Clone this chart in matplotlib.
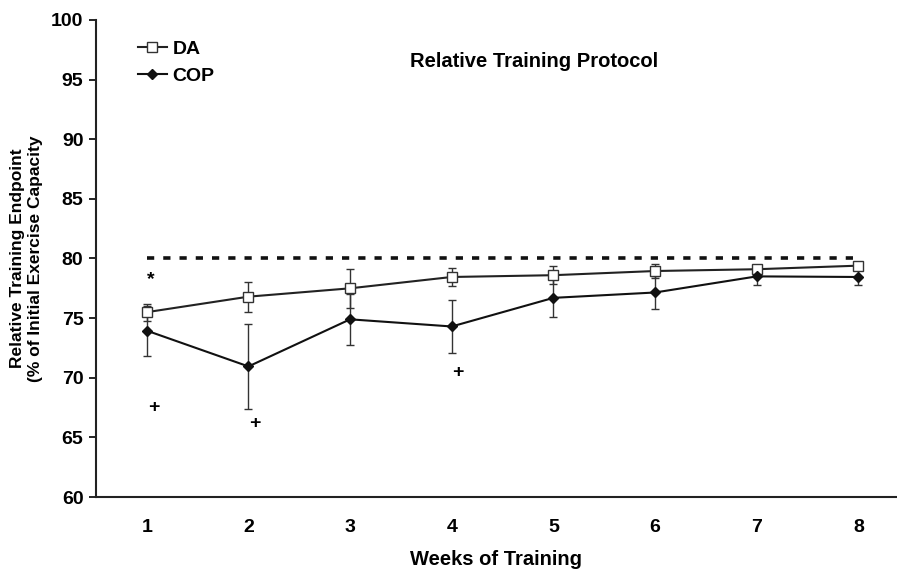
import numpy as np
import matplotlib.pyplot as plt
from matplotlib.lines import Line2D

plt.rcParams['font.family'] = ['Liberation Sans', 'DejaVu Sans']
plt.rcParams['font.weight'] = 'bold'

weeks = [1, 2, 3, 4, 5, 6, 7, 8]
da_mean = [75.5, 76.8, 77.5, 78.45, 78.6, 78.95, 79.1, 79.4]
da_err = [0.7, 1.25, 1.65, 0.75, 0.75, 0.6, 0.35, 0.3]
cop_mean = [73.95, 70.95, 74.9, 74.3, 76.7, 77.15, 78.5, 78.45]
cop_err = [2.1, 3.55, 2.15, 2.25, 1.6, 1.4, 0.7, 0.7]
target = 80

marks = ['*', '+', '+', '+']
mark_x = [1.04, 1.07, 2.06, 4.06]
mark_y = [78.2, 67.5, 66.2, 70.4]

fig = plt.figure(figsize=(8.97, 5.70), dpi=100)
ax = fig.add_axes([0.107, 0.128, 0.893, 0.837])

ax.plot([weeks[0], weeks[-1]], [target, target], color='#111111', lw=2.6,
        dashes=(2.0, 2.5), zorder=1)

ax.errorbar(weeks, da_mean, yerr=da_err, color='#222222', lw=1.5, marker='s',
            ms=6.5, mfc='white', mec='#333333', mew=1.0, ecolor='#333333',
            elinewidth=1.0, capsize=3, capthick=1.0, zorder=3)
ax.errorbar(weeks, cop_mean, yerr=cop_err, color='#111111', lw=1.5, marker='D',
            ms=5, mfc='#111111', mec='#111111', ecolor='#333333',
            elinewidth=1.0, capsize=3, capthick=1.0, zorder=3)

for m, x, y in zip(marks, mark_x, mark_y):
    ax.text(x, y, m, ha='center', va='center', fontsize=14, fontweight='bold')

ax.text(0.547, 0.912, 'Relative Training Protocol', transform=ax.transAxes,
        ha='center', va='center', fontsize=14.5, fontweight='bold')

ax.set_xlim(0.5, 8.38)
ax.set_ylim(60, 100)
ax.set_yticks(np.arange(60, 101, 5))
ax.set_xticks(weeks)
ax.tick_params(axis='x', length=0, pad=16, labelsize=14)
ax.tick_params(axis='y', length=5, width=1.2, pad=4, labelsize=14)
for s in ['top', 'right']:
    ax.spines[s].set_visible(False)
for s in ['left', 'bottom']:
    ax.spines[s].set_linewidth(1.5)
    ax.spines[s].set_color('#222222')

ax.set_xlabel('Weeks of Training', fontsize=14.5, fontweight='bold', labelpad=10)
ax.set_ylabel('Relative Training Endpoint\n(% of Initial Exercise Capacity',
              fontsize=12.5, fontweight='bold', labelpad=6)

handles = [
    Line2D([], [], color='#222222', lw=1.5, marker='s', ms=6.5, mfc='white',
           mec='#333333', mew=1.0),
    Line2D([], [], color='#111111', lw=1.5, marker='D', ms=5, mfc='#111111',
           mec='#111111'),
]
ax.legend(handles, ['DA', 'COP'], loc='upper left', bbox_to_anchor=(0.04, 0.978),
          frameon=False, fontsize=14, handlelength=1.5, handletextpad=0.3,
          labelspacing=0.5, borderpad=0)

fig.savefig('out.png', dpi=100)
